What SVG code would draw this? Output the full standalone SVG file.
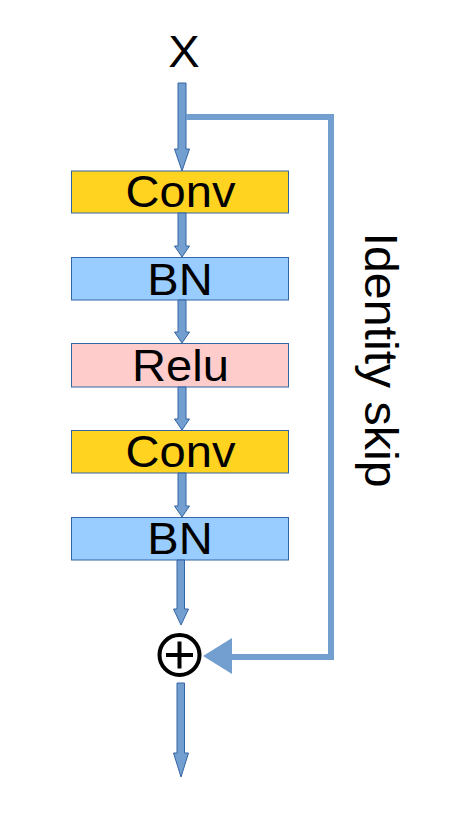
<svg xmlns="http://www.w3.org/2000/svg" width="451" height="818" viewBox="0 0 451 818">
<style>
.box{stroke:#3465A4;stroke-width:1}
.lbl{font-family:"Liberation Sans",Arial,sans-serif;font-size:44px;fill:#000;text-anchor:middle}
.arr{fill:#729FCF;stroke:#3465A4;stroke-width:1;stroke-linejoin:miter}
.skip{fill:none;stroke:#729FCF;stroke-width:6}
</style>
<rect width="451" height="818" fill="#fff"/>
<g id="x-input"><text class="lbl" transform="translate(184,67) scale(1.07,1)">X</text></g>
<g id="conv1"><rect class="box" x="71.5" y="171" width="217" height="42" fill="#FFD320"/><text class="lbl" transform="translate(180.5,207) scale(1.07,1)">Conv</text></g>
<g id="bn1"><rect class="box" x="71.5" y="257.5" width="217" height="42.5" fill="#99CCFF"/><text class="lbl" transform="translate(180,294.5) scale(1.07,1)">BN</text></g>
<g id="relu"><rect class="box" x="71.5" y="343.5" width="217" height="43.5" fill="#FFCCCC"/><text class="lbl" transform="translate(180.5,381) scale(1.07,1)">Relu</text></g>
<g id="conv2"><rect class="box" x="71.5" y="430.5" width="217" height="42.5" fill="#FFD320"/><text class="lbl" transform="translate(180.5,467) scale(1.07,1)">Conv</text></g>
<g id="bn2"><rect class="box" x="71.5" y="517.5" width="217" height="42.5" fill="#99CCFF"/><text class="lbl" transform="translate(180,554) scale(1.07,1)">BN</text></g>
<g id="sum"><circle cx="179.5" cy="655" r="20" fill="none" stroke="#000" stroke-width="4"/><line x1="166" y1="655" x2="193" y2="655" stroke="#000" stroke-width="4"/><line x1="179.5" y1="641.5" x2="179.5" y2="668.5" stroke="#000" stroke-width="4"/></g>
<g id="skip-label"><text class="lbl" transform="translate(365,360) rotate(90) scale(1.05,1)" style="font-size:46px">Identity skip</text></g>
<g id="connectors">
<polygon class="arr" points="178,83 186,83 186,149 189.5,149 182,171 174.5,149 178,149"/>
<polygon class="arr" points="178,213 186,213 186,246 189.5,246 182,257 174.5,246 178,246"/>
<polygon class="arr" points="178,300 186,300 186,332 189.5,332 182,343 174.5,332 178,332"/>
<polygon class="arr" points="178,387 186,387 186,419 189.5,419 182,430 174.5,419 178,419"/>
<polygon class="arr" points="178,473 186,473 186,506 189.5,506 182,517 174.5,506 178,506"/>
<polygon class="arr" points="177,560 184.5,560 184.5,609 188.5,609 181,625 173.5,609 177,609"/>
<polygon class="arr" points="177,683 184.5,683 184.5,753 188.5,753 181,777 173.5,753 177,753"/>
<path class="skip" d="M186,117 H331 V657 H230"/>
<polygon points="232,638 232,674 203,656" fill="#729FCF"/>
</g>
</svg>
